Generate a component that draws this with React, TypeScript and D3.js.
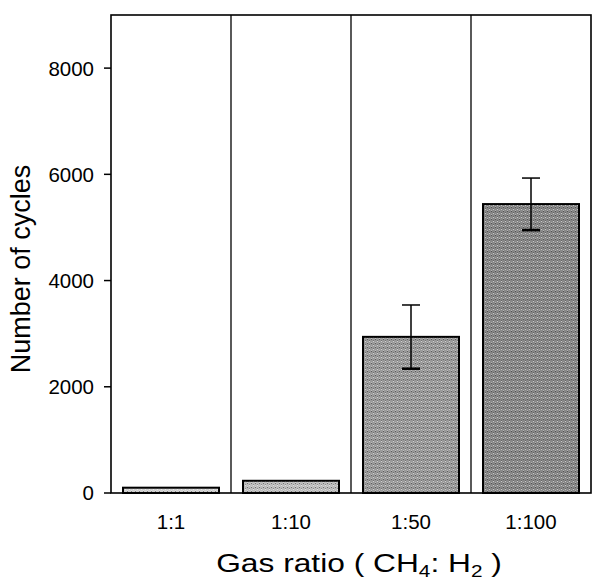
import React from 'react';
import * as d3 from 'd3';

const categories = ['1:1', '1:10', '1:50', '1:100'];
const cycles = [100, 230, 2940, 5440];
const errors = [0, 0, 600, 490];
const yTicks = [0, 2000, 4000, 6000, 8000];
const barFills = ['#cfcfcf', '#bdbdbd', '#9a9a9a', '#888888'];

const W = 593;
const H = 581;
const margin = { top: 15, right: 2, bottom: 88, left: 111 };
const font = 'Arial, "Liberation Sans", Helvetica, sans-serif';

const App = () => {
  const innerW = W - margin.left - margin.right;
  const innerH = H - margin.top - margin.bottom;

  const x = d3.scaleBand().domain(categories).range([0, innerW]).padding(0);
  const y = d3.scaleLinear().domain([0, 9000]).range([innerH, 0]);
  const inset = x.bandwidth() * 0.1;

  return (
    <svg width={W} height={H} style={{ position: 'absolute', left: 0, top: 0, background: '#fff' }}>
      <defs>
        <pattern id="stipple" width="4" height="4" patternUnits="userSpaceOnUse">
          <rect x="0" y="0" width="1" height="1" fill="#000" opacity="0.4" />
          <rect x="2" y="1" width="1" height="1" fill="#000" opacity="0.25" />
          <rect x="2" y="2" width="1" height="1" fill="#fff" opacity="0.55" />
          <rect x="0" y="3" width="1" height="1" fill="#fff" opacity="0.35" />
        </pattern>
      </defs>
      <g transform={`translate(${margin.left},${margin.top})`}>
        {/* bars */}
        {categories.map((c, i) => {
          const bx = x(c) + inset;
          const bw = x.bandwidth() - inset * 2;
          const top = y(cycles[i]);
          return (
            <g key={c}>
              <rect x={bx} y={top} width={bw} height={innerH - top} fill={barFills[i]} stroke="#000" strokeWidth={2} />
              <rect x={bx + 1} y={top + 1} width={Math.max(0, bw - 2)} height={Math.max(0, innerH - top - 2)} fill="url(#stipple)" />
            </g>
          );
        })}

        {/* error bars */}
        {categories.map((c, i) => {
          if (!errors[i]) return null;
          const cx = x(c) + x.bandwidth() / 2;
          const hi = y(cycles[i] + errors[i]);
          const lo = y(cycles[i] - errors[i]);
          return (
            <g key={'err' + c} stroke="#000">
              <line x1={cx} x2={cx} y1={hi} y2={lo} strokeWidth={1.5} />
              <line x1={cx - 9} x2={cx + 9} y1={hi} y2={hi} strokeWidth={1.5} />
              <line x1={cx - 9} x2={cx + 9} y1={lo} y2={lo} strokeWidth={2.5} />
            </g>
          );
        })}

        {/* category dividers */}
        {categories.slice(1).map(c => (
          <line key={'div' + c} x1={x(c)} x2={x(c)} y1={0} y2={innerH} stroke="#000" strokeWidth={1.3} />
        ))}

        {/* frame */}
        <rect x={0} y={0} width={innerW} height={innerH} fill="none" stroke="#000" strokeWidth={1.6} />

        {/* y axis ticks */}
        {yTicks.map(t => (
          <g key={t} transform={`translate(0,${y(t)})`}>
            <line x1={-7} x2={0} stroke="#000" strokeWidth={1.5} />
            <text x={-17} dy="0.36em" textAnchor="end" fontFamily={font} fontSize={20.5} fill="#000">{t}</text>
          </g>
        ))}

        {/* x tick labels */}
        {categories.map(c => (
          <text key={'xl' + c} x={x(c) + x.bandwidth() / 2} y={innerH + 36} textAnchor="middle" fontFamily={font} fontSize={20.5} fill="#000">{c}</text>
        ))}
      </g>

      {/* axis titles */}
      <text transform="translate(30,269) rotate(-90)" textAnchor="middle" fontFamily={font} fontSize={27} fill="#000">Number of cycles</text>
      <text transform={`translate(${margin.left + innerW / 2 + 8},572) scale(1.22,1)`} textAnchor="middle" fontFamily={font} fontSize={26} fill="#000">
        Gas ratio ( CH<tspan fontSize={17} dy={5}>4</tspan><tspan dy={-5}>: H</tspan><tspan fontSize={17} dy={5}>2</tspan><tspan dy={-5}> )</tspan>
      </text>
    </svg>
  );
};

export default App;
